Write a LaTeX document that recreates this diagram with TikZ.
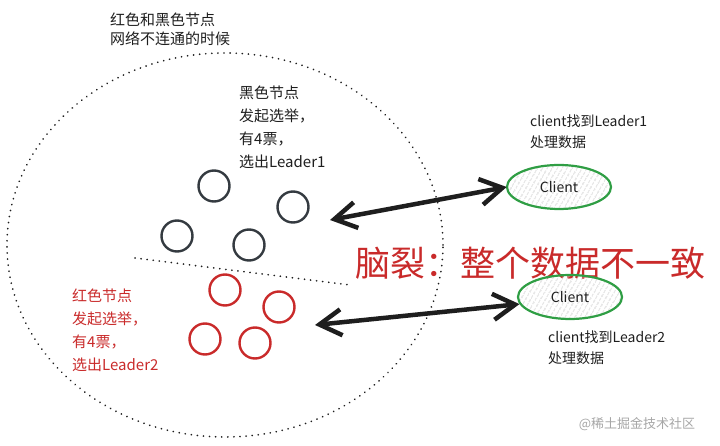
\documentclass[tikz,border=0pt]{standalone}
\usepackage{fontspec}
\setmainfont{Noto Sans CJK SC}
\usepackage{xcolor}
\usetikzlibrary{arrows.meta,shapes.geometric,patterns.meta}
\definecolor{nodeblack}{HTML}{343A40}
\definecolor{nodered}{HTML}{C92A2A}
\definecolor{clientgreen}{HTML}{2F9E44}
\definecolor{inkblack}{HTML}{1E1E1E}

\begin{document}
\begin{tikzpicture}[x=1pt, y=-1pt,
    blacknode/.style={draw=nodeblack, circle, line width=2.4pt, minimum size=31pt, inner sep=0pt},
    rednode/.style={draw=nodered, circle, line width=2.4pt, minimum size=31pt, inner sep=0pt},
    client/.style={draw=clientgreen, ellipse, line width=2.2pt, minimum width=104pt, minimum height=44pt, pattern={Lines[angle=60,distance=4pt,line width=0.6pt]}, pattern color=gray!50, text=inkblack, font=\fontsize{14}{16}\selectfont},
    note/.style={align=left, anchor=north west, inner sep=0pt, font=\fontsize{15}{23}\selectfont, text=inkblack},
    link/.style={{Straight Barb[length=22pt,width=26pt]}-{Straight Barb[length=22pt,width=26pt]}, line width=4.5pt, inkblack},
    zone/.style={dash pattern=on 0.1pt off 6pt, line cap=round, line width=1.8pt, inkblack}
]
\useasboundingbox (0,0) rectangle (720,446);

% Network zone and split
\draw[zone] (225,245) ellipse [x radius=218pt, y radius=192pt];
\draw[zone] (135,258) -- (350,285);

% Texts
\node[note, font=\fontsize{15}{19}\selectfont] (title) at (110,13) {红色和黑色节点\\网络不连通的时候};
\node[note] (blacktext) at (239,86) {黑色节点\\发起选举，\\有4票，\\选出Leader1};
\node[note, text=nodered] (redtext) at (72,289) {红色节点\\发起选举，\\有4票，\\选出Leader2};
\node[note, font=\fontsize{14}{21}\selectfont] (c1text) at (530,115) {client找到Leader1\\处理数据};
\node[note, font=\fontsize{14}{21}\selectfont] (c2text) at (548,331) {client找到Leader2\\处理数据};
\node[text=nodered, font=\fontsize{35}{40}\selectfont, inner sep=0pt] (split) at (530,263) {脑裂：整个数据不一致};
\node[text=gray!70, font=\fontsize{13}{15}\selectfont, inner sep=0pt] (mark) at (637,424) {@稀土掘金技术社区};

% Black nodes
\node[blacknode] (b1) at (214,186) {};
\node[blacknode] (b2) at (293,207) {};
\node[blacknode] (b3) at (177,236) {};
\node[blacknode] (b4) at (249,245) {};

% Red nodes
\node[rednode] (r1) at (225,290) {};
\node[rednode] (r2) at (279,307) {};
\node[rednode] (r3) at (205,339) {};
\node[rednode] (r4) at (255,343) {};

% Clients
\node[client] (client1) at (559,187) {Client};
\node[client] (client2) at (570,297) {Client};

% Links
\coordinate (blackend) at (330,220);
\coordinate (redend) at (315,325);
\draw[link] (blackend) -- (client1.west);
\draw[link] (redend) -- (client2.188);

\end{tikzpicture}
\end{document}
